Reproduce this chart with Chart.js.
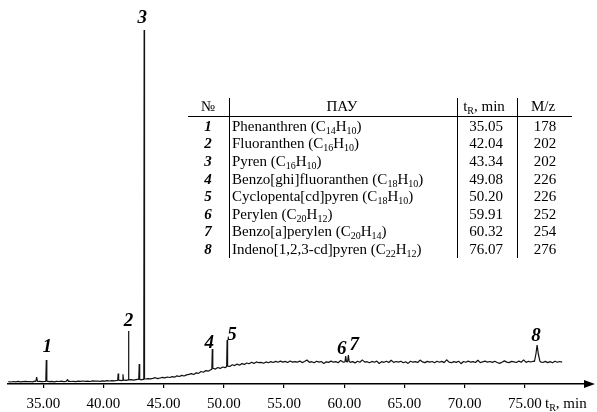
<!DOCTYPE html>
<html>
<head>
<meta charset="utf-8">
<script src="https://cdn.jsdelivr.net/npm/chart.js@4.4.0/dist/chart.umd.min.js"></script>
<style>
  html, body { margin: 0; padding: 0; background: #fff; }
  #wrap { position: relative; width: 597px; height: 412px; font-family: "Liberation Serif", "Times New Roman", serif; color: #000; }
  #chart { position: absolute; left: 0; top: 0; }
  #pah-table { position: absolute; left: 0; top: 0; width: 597px; height: 412px; font-size: 15px; pointer-events: none; }
  .cell { position: absolute; height: 17.6px; line-height: 17.6px; white-space: nowrap; }
  .ctr { text-align: center; width: 80px; }
  .num { font-weight: bold; font-style: italic; }
  .vl { position: absolute; width: 1px; background: #000; }
  .hl { position: absolute; height: 1px; background: #000; }
  sub { font-size: 10px; vertical-align: -3px; line-height: 0; }
</style>
</head>
<body>
<div id="wrap">
  <canvas id="chart" width="597" height="412"></canvas>
  <div id="pah-table"></div>
</div>
<script>
// x axis ticks (min)
const tickValues = [35, 40, 45, 50, 55, 60, 65, 70, 75];

// detector trace, sampled every 0.2 min from 32.1 min
const traceStart = 32.1;
const traceStep = 0.2;
const traceSignal = [
  2.3, 2.0, 2.5, 2.2, 2.6, 2.1, 2.4, 2.7, 2.3, 2.5,
  2.2, 2.8, 2.4, 2.6, 2.3, 2.5, 2.9, 2.4, 2.6, 2.2,
  2.7, 2.5, 2.8, 2.3, 2.6, 2.9, 2.5, 2.7, 2.4, 2.8,
  2.6, 3.0, 2.7, 2.9, 2.5, 3.1, 2.8, 3.0, 2.7, 3.2,
  2.9, 3.3, 3.0, 3.4, 3.1, 3.5, 3.8, 3.4, 3.9, 3.6,
  4.0, 4.3, 3.9, 4.4, 4.8, 4.2, 4.6, 5.0, 5.3, 5.1,
  5.6, 6.3, 5.4, 6.0, 6.6,   6.1, 7.0, 6.5, 7.4, 6.8,
  8.2, 7.5, 8.6, 8.0, 9.1,   9.6, 10.4, 9.5, 11.2, 10.6,
  12.5, 11.7, 13.4, 12.8, 14.2,   15.8, 14.9, 16.5, 15.6, 17.0,
  16.4, 18.3, 17.6, 19.2, 18.4,   19.9, 18.8, 20.4, 19.6, 21.0,
  20.2, 21.7, 20.6, 22.1, 21.3,   21.6, 20.7, 22.1, 21.3, 22.4,
  21.5, 22.6, 21.7, 22.9, 21.9,   22.6, 21.5, 23.0, 21.9, 22.4,
  21.8, 22.9, 21.4, 22.5, 24.0,   21.7, 22.3, 21.2, 22.8, 21.9,
  22.5, 20.4, 22.2, 21.6, 22.9,   21.8, 22.4, 21.3, 23.6, 21.9,
  22.2, 23.0, 21.6, 22.4, 21.1,   22.7, 21.8, 24.1, 21.9, 22.3,
  21.2, 22.6, 21.8, 22.9, 20.5,   22.4, 21.7, 22.8, 21.5, 23.8,
  21.6, 22.5, 21.9, 22.8, 21.3,   22.3, 20.6, 22.7, 21.8, 22.4,
  21.5, 23.9, 22.1, 21.4, 22.6,   21.9, 22.5, 21.2, 22.8, 21.7,
  22.6, 21.4, 24.2, 21.9, 21.3,   22.4, 21.6, 22.8, 20.3, 22.5,
  21.7, 22.9, 21.8, 22.4, 21.5,   23.7, 21.4, 22.2, 22.9, 21.8,
  22.5, 21.6, 22.8, 21.5, 20.6,   21.8, 23.1, 21.9, 21.4, 22.6,
  22.1, 21.5, 22.9, 21.8, 24.1,   21.6, 22.7, 22.0, 22.8, 22.5,
  23.0, 22.1, 21.5, 22.6, 21.4,   22.4, 21.3, 22.8, 21.7, 22.5,
  21.9
];

// narrow peaks (time, signal), one group per peak
const spikeTimes = [
  [34.38, 34.45, 34.52],
  [35.21, 35.25, 35.29],
  [36.97, 37.02, 37.07],
  [41.18, 41.22, 41.26],
  [41.58, 41.62, 41.66],
  [42.05, 42.08, 42.11],
  [42.93, 42.97, 43.01],
  [43.35, 43.38, 43.41],
  [49.00, 49.04, 49.08],
  [50.23, 50.27, 50.31],
  [60.06, 60.12, 60.18],
  [60.28, 60.34, 60.41],
  [75.80, 75.92, 76.02, 76.12, 76.25]
];
const spikeSignal = [
  [2.5, 6.8, 2.5],
  [2.5, 24, 2.6],
  [2.6, 4.6, 2.6],
  [3.6, 10.5, 3.7],
  [3.7, 9.8, 3.8],
  [4.1, 53, 4.2],
  [4.5, 20, 4.6],
  [4.9, 354, 5.0],
  [14.6, 35, 15.4],
  [17.2, 44, 17.8],
  [22.0, 28, 22.3],
  [22.2, 29, 22.5],
  [22.5, 30, 39, 30, 22.8]
];

// numbered peaks
const peakIds = ['1', '2', '3', '4', '5', '6', '7', '8'];
const peakTimes = [35.25, 42.08, 43.38, 49.04, 50.27, 60.12, 60.34, 76.02];
const peakTops = [24, 53, 354, 35, 44, 28, 29, 39];

// table
const compoundNames = ['Phenanthren', 'Fluoranthen', 'Pyren', 'Benzo[ghi]fluoranthen',
  'Cyclopenta[cd]pyren', 'Perylen', 'Benzo[a]perylen', 'Indeno[1,2,3-cd]pyren'];
const compoundFormulas = ['C14H10', 'C16H10', 'C16H10', 'C18H10', 'C18H10', 'C20H12', 'C20H14', 'C22H12'];
const retentionTimes = ['35.05', '42.04', '43.34', '49.08', '50.20', '59.91', '60.32', '76.07'];
const massCharge = ['178', '202', '202', '226', '226', '252', '254', '276'];

// --- styling ---
const labelOffsets = [[1, -13], [0, -10], [-2, -11.5], [-3, -6], [5, -5], [-4, -7], [6, -10], [-1, -9]];
const serif = '"Liberation Serif", "Times New Roman", serif';

// build table overlay
const tbl = document.getElementById('pah-table');
const sub = s => s.replace(/(\d+)/g, '<sub>$1</sub>');
let html = '';
const headY = 107, rowY0 = 126.5, rowH = 17.6;
const cell = (cls, left, cy, txt) =>
  `<div class="cell ${cls}" style="left:${left}px;top:${(cy - 8.8).toFixed(1)}px">${txt}</div>`;
html += cell('ctr', 168, headY, '№');
html += cell('ctr', 302, headY, 'ПАУ');
html += cell('ctr', 444, headY, 't<sub>R</sub>, min');
html += cell('ctr', 503, headY, 'M/z');
compoundNames.forEach((n, i) => {
  const cy = rowY0 + i * rowH;
  html += cell('ctr num', 168, cy, peakIds[i]);
  html += cell('', 232, cy, `${n} (${sub(compoundFormulas[i])})`);
  html += cell('ctr', 446, cy, retentionTimes[i]);
  html += cell('ctr', 505, cy, massCharge[i]);
});
html += '<div class="hl" style="left:188px;top:116px;width:384px"></div>';
[229, 457, 517].forEach(x => { html += `<div class="vl" style="left:${x}px;top:98px;height:160px"></div>`; });
tbl.innerHTML = html;

// assemble trace points
const windows = spikeTimes.map(g => [g[0], g[g.length - 1]]);
const points = [];
traceSignal.forEach((v, i) => {
  const t = +(traceStart + i * traceStep).toFixed(2);
  if (!windows.some(w => t >= w[0] && t <= w[1])) points.push({ x: t, y: v });
});
spikeTimes.forEach((g, k) => g.forEach((t, j) => points.push({ x: t, y: spikeSignal[k][j] })));
points.sort((a, b) => a.x - b.x);

const overlay = {
  id: 'overlay',
  afterDraw(chart) {
    const { ctx, chartArea, scales: { x, y } } = chart;
    ctx.save();
    // axis arrow
    const ay = chartArea.bottom;
    ctx.fillStyle = '#000';
    ctx.beginPath();
    ctx.moveTo(chartArea.right - 2, ay - 4);
    ctx.lineTo(595, ay);
    ctx.lineTo(chartArea.right - 2, ay + 4);
    ctx.closePath();
    ctx.fill();
    // axis title
    ctx.textBaseline = 'middle';
    ctx.textAlign = 'left';
    ctx.font = `15px ${serif}`;
    ctx.fillText('t', 545, 404);
    const tw = ctx.measureText('t').width;
    ctx.font = `10px ${serif}`;
    ctx.fillText('R', 545 + tw, 408);
    const rw = ctx.measureText('R').width;
    ctx.font = `15px ${serif}`;
    ctx.fillText(', min', 545 + tw + rw, 404);
    // peak numbers
    ctx.font = `bold italic 19px ${serif}`;
    ctx.textAlign = 'center';
    peakIds.forEach((id, k) => {
      const px = x.getPixelForValue(peakTimes[k]) + labelOffsets[k][0];
      const py = y.getPixelForValue(peakTops[k]) + labelOffsets[k][1];
      ctx.fillText(id, px, py);
    });
    ctx.restore();
  }
};

new Chart(document.getElementById('chart'), {
  type: 'line',
  data: {
    datasets: [{
      data: points,
      borderColor: '#111',
      borderWidth: 1.2,
      borderJoinStyle: 'bevel',
      pointRadius: 0,
      tension: 0
    }]
  },
  options: {
    responsive: false,
    animation: false,
    devicePixelRatio: 1,
    layout: { padding: { left: 8, right: 11, top: 10, bottom: 0 } },
    plugins: { legend: { display: false }, tooltip: { enabled: false } },
    scales: {
      x: {
        type: 'linear',
        min: 32.07,
        max: 80.08,
        afterBuildTicks: s => { s.ticks = tickValues.map(v => ({ value: v })); },
        afterFit: s => { s.height = 28; },
        grid: { drawOnChartArea: false, drawTicks: true, tickLength: 4, color: '#000', lineWidth: 1.2 },
        border: { display: true, color: '#000', width: 1.5 },
        ticks: {
          color: '#000',
          font: { family: serif, size: 15 },
          padding: 7,
          maxRotation: 0,
          autoSkip: false,
          callback: v => v.toFixed(2)
        }
      },
      y: { display: false, min: 0, max: 374 }
    }
  },
  plugins: [overlay]
});
</script>
</body>
</html>
